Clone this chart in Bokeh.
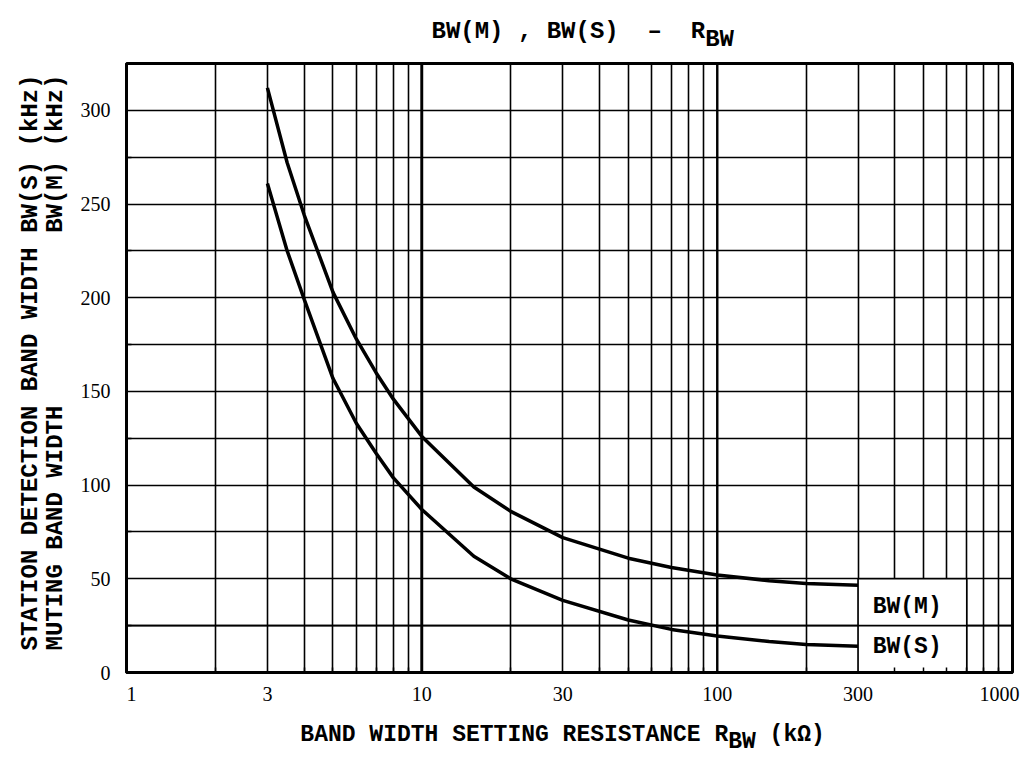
from bokeh.plotting import figure
from bokeh.models import Range1d, FixedTicker, Label, Span, Title, CustomJSTickFormatter
from bokeh.embed import file_html
from bokeh.resources import INLINE

# ---- data ----
r_bw = [3, 3.5, 4, 5, 6, 7, 8, 10, 15, 20, 30, 50, 70, 100, 150, 200, 300]
bw_m = [312, 272, 244, 203, 178, 160, 146, 126, 99, 86, 72, 61, 56, 52, 49, 47.5, 46.5]
bw_s = [261, 225, 199, 157, 133, 117, 104, 87, 62, 50, 38.5, 28, 23, 19.5, 16.5, 15, 14]

x_major = [1, 3, 10, 30, 100, 300, 1000]
x_minor = [2, 4, 5, 6, 7, 8, 9, 20, 40, 50, 60, 70, 80, 90,
           200, 400, 500, 600, 700, 800, 900]
y_major = [0, 50, 100, 150, 200, 250, 300]
y_minor = [25, 75, 125, 175, 225, 275, 325]

NB = "\u00a0"
curve_labels = ["BW(M)", "BW(S)"]
# title: second line carries the subscript "BW" of R (monospaced, padded to equal length)
title_line1 = "BW(M)" + NB + "," + NB + "BW(S)" + NB * 2 + "\u2013" + NB * 2 + "R" + NB * 2
title_line2 = NB * 19 + "BW"
x_label_line1 = "BAND WIDTH SETTING RESISTANCE" + NB + "R" + NB * 3 + "(k\u03a9)" + NB
x_label_line2 = NB * 31 + "BW" + NB * 6
y_label_line1 = "STATION DETECTION BAND WIDTH BW(S) (kHz)"
y_label_line2 = "MUTING BAND WIDTH" + NB * 12 + "BW(M) (kHz)"

MONO = "Liberation Mono"
TICK_FONT = "Liberation Serif"

p = figure(frame_width=886, frame_height=609,
           min_border_left=126, min_border_right=17,
           min_border_top=63, min_border_bottom=85,
           x_axis_type="log", x_range=Range1d(1, 1000), y_range=Range1d(0, 325),
           output_backend="svg", toolbar_location=None)

p.background_fill_color = "white"
p.border_fill_color = "white"
p.outline_line_color = "black"
p.outline_line_width = 3
p.outline_line_alpha = 1

p.xaxis.ticker = FixedTicker(ticks=x_major, minor_ticks=x_minor)
p.yaxis.ticker = FixedTicker(ticks=y_major, minor_ticks=y_minor)
p.xaxis.formatter = CustomJSTickFormatter(code="""
const t = Math.round(tick);
if (t === 1000) return "1000\\u00a0\\u00a0";
if (t === 1) return "\\u00a0\\u00a01";
return String(t);
""")

for ax in (p.xaxis, p.yaxis):
    ax.axis_line_color = "black"
    ax.axis_line_width = 3
    ax.major_tick_line_color = None
    ax.major_tick_out = 0
    ax.major_tick_in = 0
    ax.minor_tick_line_color = "black"
    ax.minor_tick_line_width = 1.5
    ax.minor_tick_in = 5
    ax.minor_tick_out = 0
    ax.major_label_text_font = TICK_FONT
    ax.major_label_text_font_size = "20px"
    ax.major_label_text_color = "black"

p.xaxis.major_label_standoff = 10
p.yaxis.major_label_standoff = 16

# x axis label, two lines: the second holds the subscript
p.xaxis.axis_label = x_label_line1 + "\n" + x_label_line2
p.xaxis.axis_label_text_font = MONO
p.xaxis.axis_label_text_font_size = "23px"
p.xaxis.axis_label_text_font_style = "bold"
p.xaxis.axis_label_text_color = "black"
p.xaxis.axis_label_text_line_height = 0.3
p.xaxis.axis_label_standoff = 14

for g in (p.xgrid, p.ygrid):
    g.grid_line_color = "black"
    g.grid_line_width = 1.6
    g.grid_line_alpha = 1
    g.minor_grid_line_color = "black"
    g.minor_grid_line_width = 1.6
    g.minor_grid_line_alpha = 1

# slightly heavier decade lines
p.add_layout(Span(location=10, dimension="height", line_color="black", line_width=2.8))
p.add_layout(Span(location=100, dimension="height", line_color="black", line_width=2.2))

# curves
p.line(r_bw, bw_m, line_color="black", line_width=3.5)
p.line(r_bw, bw_s, line_color="black", line_width=3.5)

# label box (covers vertical grid lines behind the curve labels)
p.quad(left=300, right=700, bottom=0, top=50, fill_color="white",
       line_color="black", line_width=1.6)
p.add_layout(Span(location=25, dimension="width", line_color="black", line_width=1.6))

for txt, yv in zip(curve_labels, [35.0, 13.5]):
    p.add_layout(Label(x=440, y=yv, text=txt, text_align="center", text_baseline="middle",
                       text_font=MONO, text_font_size="23px", text_font_style="bold",
                       text_color="black"))

# title (two lines, tight line height so line 2 acts as subscript)
p.add_layout(Title(text=title_line1 + "\n" + title_line2, align="left", offset=305,
                   vertical_align="top", standoff=17, text_font=MONO,
                   text_font_size="24px", text_font_style="bold", text_color="black",
                   text_line_height=0.31), "above")

# y label (two rotated lines)
p.add_layout(Title(text=y_label_line1 + "\n" + y_label_line2, align="left", offset=22,
                   vertical_align="top", standoff=13, text_font=MONO,
                   text_font_size="24px", text_font_style="bold", text_color="black",
                   text_line_height=0.91), "left")

open("out.html", "w").write(file_html(p, INLINE))
